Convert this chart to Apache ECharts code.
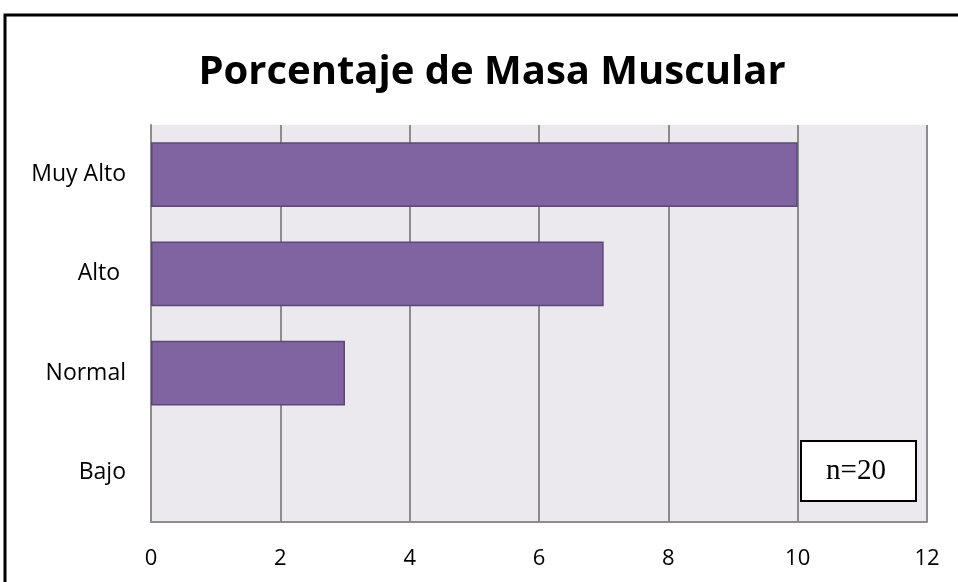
<!DOCTYPE html>
<html>
<head>
<meta charset="utf-8">
<script src="https://cdn.jsdelivr.net/npm/echarts@6/dist/echarts.min.js"></script>
<style>
  html, body { margin: 0; padding: 0; background: #ffffff; }
  #chart { width: 958px; height: 582px; }
</style>
</head>
<body>
<div id="chart"></div>
<script>
// categorias y valores (n=20)
var categories = ["Bajo", "Normal", "Alto ", "Muy Alto"];
var values = [0, 3, 7, 10];
var xTicks = [0, 2, 4, 6, 8, 10, 12];

var chart = echarts.init(document.getElementById('chart'));

// barras con valor 0 no se dibujan (sin borde)
var barData = values.map(function (v) {
  return v === 0 ? { value: v, itemStyle: { borderWidth: 0, opacity: 0 } } : v;
});

var option = {
  backgroundColor: "#ffffff",
  animation: false,
  title: {
    text: "Porcentaje de Masa Muscular",
    left: 487,
    top: 48,
    textAlign: "center",
    textStyle: {
      fontFamily: "Open Sans",
      fontWeight: "bold",
      fontSize: 40,
      color: "#000000"
    }
  },
  grid: {
    left: 151,
    right: 31,
    top: 125,
    bottom: 60,
    show: true,
    backgroundColor: "#ebe8ee",
    borderWidth: 0
  },
  xAxis: {
    type: "value",
    min: xTicks[0],
    max: xTicks[xTicks.length - 1],
    interval: 2,
    axisLine: { show: true, lineStyle: { color: "#8c8c8c", width: 2 } },
    axisTick: { show: false },
    splitLine: { show: true, lineStyle: { color: "#8c8c8c", width: 2 } },
    axisLabel: {
      margin: 26,
      fontFamily: "Open Sans",
      fontSize: 22,
      color: "#000000"
    }
  },
  yAxis: {
    type: "category",
    data: categories,
    axisLine: { show: true, lineStyle: { color: "#8c8c8c", width: 2 } },
    axisTick: { show: false },
    axisLabel: {
      margin: 25,
      fontFamily: "Open Sans",
      fontSize: 23,
      color: "#000000"
    }
  },
  series: [{
    type: "bar",
    data: barData,
    barWidth: "65%",
    itemStyle: {
      color: "#8064a2",
      borderColor: "#5c4776",
      borderWidth: 1.5
    }
  }],
  graphic: [
    {
      type: "rect",
      shape: { x: 801, y: 441, width: 115, height: 60 },
      style: { fill: "#ffffff", stroke: "#000000", lineWidth: 2 }
    },
    {
      type: "text",
      x: 856,
      y: 471,
      style: {
        text: "n=20",
        font: "29px 'Liberation Serif', serif",
        fill: "#000000",
        textAlign: "center",
        textVerticalAlign: "middle"
      }
    },
    {
      type: "polyline",
      shape: { points: [[5, 582], [5, 15], [958, 15]] },
      style: { stroke: "#000000", lineWidth: 3, fill: null }
    }
  ]
};

chart.setOption(option);
</script>
</body>
</html>
